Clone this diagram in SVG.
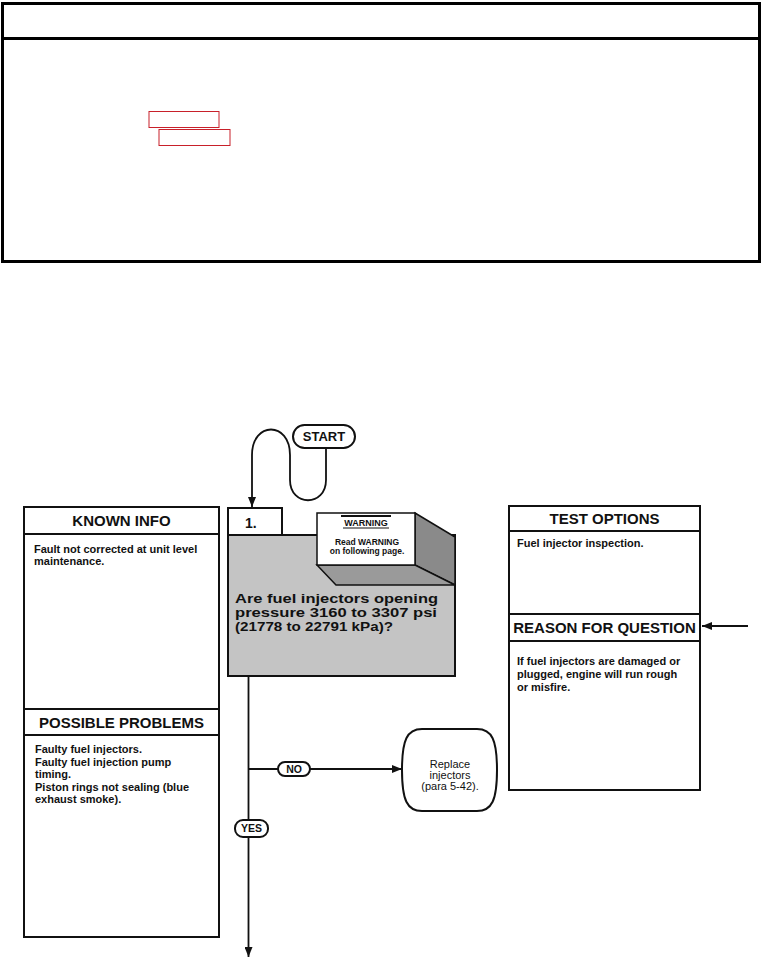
<svg xmlns="http://www.w3.org/2000/svg" width="762" height="959" viewBox="0 0 762 959">
<style>
text{font-family:"Liberation Sans",Arial,sans-serif;fill:#111}
.hd{font-size:15px;font-weight:bold;text-anchor:middle}
.bd{font-size:11px;font-weight:bold}
.box{fill:#fff;stroke:#111;stroke-width:2}
.ln{fill:none;stroke:#111;stroke-width:1.8}
.pill{fill:#fff;stroke:#111;stroke-width:2}
.pt{font-size:10.5px;font-weight:bold;text-anchor:middle}
.q{font-size:13.5px;font-weight:bold}
</style>
<defs>
<marker id="ah" markerUnits="userSpaceOnUse" markerWidth="10" markerHeight="8" refX="10" refY="4" orient="auto">
<path d="M0,0 L10,4 L0,8 z" fill="#111"/>
</marker>
</defs>
<rect width="762" height="959" fill="#fff"/>
<g id="header-frame">
<rect x="2.5" y="3.5" width="757" height="258" fill="none" stroke="#000" stroke-width="3"/>
<line x1="2.5" y1="38.5" x2="759.5" y2="38.5" stroke="#000" stroke-width="3"/>
<rect x="149" y="111.5" width="70" height="16" fill="none" stroke="#c8202a" stroke-width="1"/>
<rect x="159" y="129.5" width="71" height="16" fill="none" stroke="#c8202a" stroke-width="1"/>
</g>
<g id="connectors">
<path class="ln" d="M326,448 L326,480 C326,507 290,507 290,480 L290,455 C290,421 252,421 252,455 L252,507" marker-end="url(#ah)"/>
<path class="ln" d="M248.5,676 L248.5,957" marker-end="url(#ah)"/>
<path class="ln" d="M248.5,769 L402,769" marker-end="url(#ah)"/>
<path class="ln" d="M748,626 L702,626" marker-end="url(#ah)"/>
</g>
<g id="start">
<rect class="pill" x="293" y="425" width="62" height="23" rx="11.5"/>
<text class="pt" x="324" y="441" style="font-size:13px">START</text>
</g>
<g id="known-info">
<rect class="box" x="24" y="507" width="195" height="430"/>
<line x1="24" y1="534" x2="219" y2="534" stroke="#111" stroke-width="2"/>
<text class="hd" x="121.5" y="526">KNOWN INFO</text>
<text class="bd" x="34" y="553">Fault not corrected at unit level</text>
<text class="bd" x="34" y="565">maintenance.</text>
</g>
<g id="possible-problems">
<rect x="24" y="709" width="195" height="26" fill="#fff" stroke="#111" stroke-width="2"/>
<text class="hd" x="121.5" y="728">POSSIBLE PROBLEMS</text>
<text class="bd" x="35" y="753">Faulty fuel injectors.</text>
<text class="bd" x="35" y="766">Faulty fuel injection pump</text>
<text class="bd" x="35" y="778">timing.</text>
<text class="bd" x="35" y="791">Piston rings not sealing (blue</text>
<text class="bd" x="35" y="803">exhaust smoke).</text>
</g>
<g id="test-options">
<rect class="box" x="509" y="506" width="191" height="284"/>
<line x1="509" y1="531" x2="700" y2="531" stroke="#111" stroke-width="2"/>
<text class="hd" x="604.5" y="524">TEST OPTIONS</text>
<text class="bd" x="517" y="547">Fuel injector inspection.</text>
</g>
<g id="reason-for-question">
<rect x="509" y="614" width="191" height="27" fill="#fff" stroke="#111" stroke-width="2"/>
<text class="hd" x="604.5" y="633">REASON FOR QUESTION</text>
<text class="bd" x="517" y="665">If fuel injectors are damaged or</text>
<text class="bd" x="517" y="678">plugged, engine will run rough</text>
<text class="bd" x="517" y="691">or misfire.</text>
</g>
<g id="question-1">
<rect x="228" y="535" width="227" height="141" fill="#c4c4c4" stroke="#111" stroke-width="2"/>
<rect class="box" x="228" y="508" width="54" height="27"/>
<text x="245" y="528" style="font-size:14px;font-weight:bold">1.</text>
<polygon points="415,513 455,537 455,585 415,565" fill="#8a8a8a" stroke="#111" stroke-width="1.5"/>
<polygon points="317,565 415,565 455,585 336,585" fill="#9a9a9a" stroke="#111" stroke-width="1.5"/>
<rect x="317" y="513" width="98" height="52" fill="#fff" stroke="#111" stroke-width="1.5"/>
<line x1="341" y1="516" x2="391" y2="516" stroke="#111" stroke-width="2"/>
<text x="366" y="526" style="font-size:9px;font-weight:bold;text-anchor:middle">WARNING</text>
<line x1="343" y1="528" x2="389" y2="528" stroke="#111" stroke-width="1"/>
<text x="367" y="545" style="font-size:8.5px;font-weight:bold;text-anchor:middle">Read WARNING</text>
<text x="367" y="554" style="font-size:8.5px;font-weight:bold;text-anchor:middle">on following page.</text>
<text class="q" x="235" y="603" textLength="203" lengthAdjust="spacingAndGlyphs">Are fuel injectors opening</text>
<text class="q" x="235" y="617" textLength="202" lengthAdjust="spacingAndGlyphs">pressure 3160 to 3307 psi</text>
<text class="q" x="235" y="631" textLength="158" lengthAdjust="spacingAndGlyphs">(21778 to 22791 kPa)?</text>
</g>
<g id="no-label">
<rect class="pill" x="278" y="762" width="32" height="14" rx="7"/>
<text class="pt" x="294" y="773">NO</text>
</g>
<g id="yes-label">
<rect class="pill" x="235" y="820" width="33" height="17" rx="8"/>
<text class="pt" x="251.5" y="832">YES</text>
</g>
<g id="replace-injectors">
<path d="M422,729 L477,729 C492,729 497,740 497,770 C497,800 492,811 477,811 L422,811 C407,811 402,800 402,770 C402,740 407,729 422,729 Z" fill="#fff" stroke="#111" stroke-width="2"/>
<text x="450" y="768" style="font-size:11px;text-anchor:middle">Replace</text>
<text x="450" y="779" style="font-size:11px;text-anchor:middle">injectors</text>
<text x="450" y="790" style="font-size:11px;text-anchor:middle">(para 5-42).</text>
</g>
</svg>
